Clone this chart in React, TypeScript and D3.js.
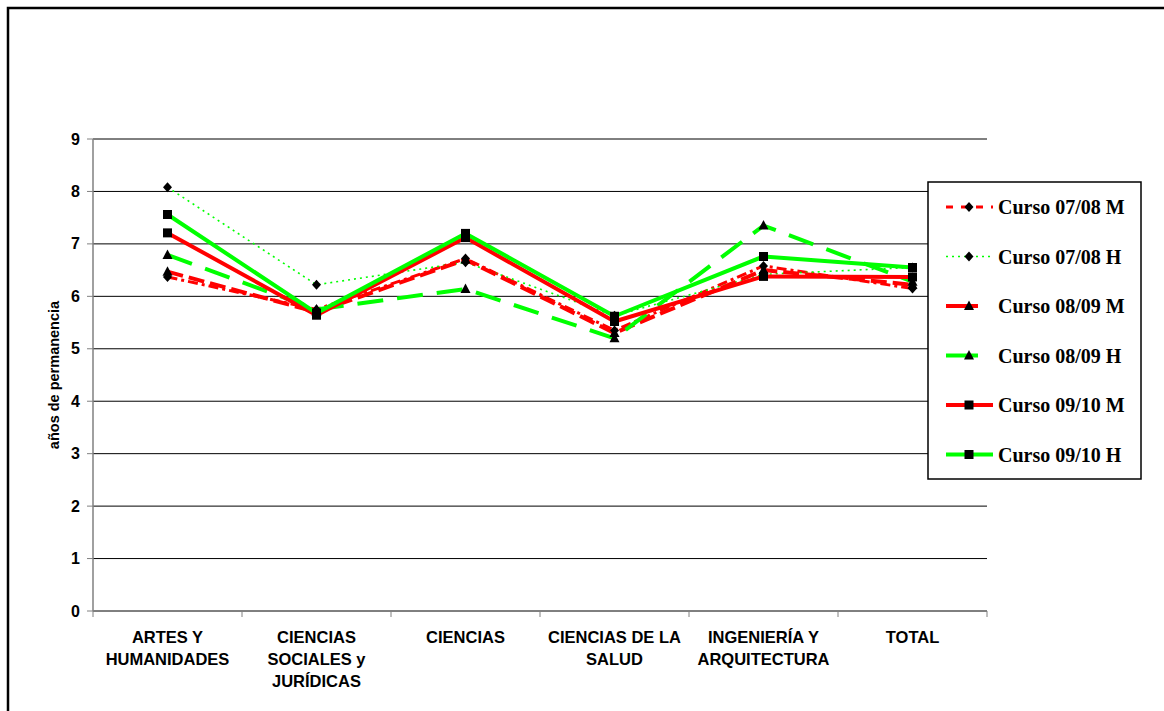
import React from 'react';
import * as d3 from 'd3';

// categories (line breaks as in the original axis labels)
const categories = [
  'ARTES Y\nHUMANIDADES',
  'CIENCIAS\nSOCIALES y\nJURÍDICAS',
  'CIENCIAS',
  'CIENCIAS DE LA\nSALUD',
  'INGENIERÍA Y\nARQUITECTURA',
  'TOTAL',
];

const yTicks = [0, 1, 2, 3, 4, 5, 6, 7, 8, 9];

const curso0708M = [6.37, 5.75, 6.72, 5.35, 6.58, 6.15];
const curso0708H = [8.08, 6.22, 6.65, 5.63, 6.42, 6.55];
const curso0809M = [6.47, 5.7, 6.7, 5.3, 6.5, 6.22];
const curso0809H = [6.79, 5.75, 6.14, 5.2, 7.35, 6.28];
const curso0910M = [7.21, 5.64, 7.12, 5.52, 6.38, 6.37];
const curso0910H = [7.56, 5.68, 7.2, 5.62, 6.76, 6.55];

const RED = '#ff0000';
const GREEN = '#00ff00';

type Marker = 'diamond' | 'triangle' | 'square';

const series = [
  { name: 'Curso 07/08 M', values: curso0708M, color: RED, width: 3, dash: '10,4,3,4', legendDash: '7,8', marker: 'diamond' as Marker },
  { name: 'Curso 07/08 H', values: curso0708H, color: GREEN, width: 1.6, dash: '2,4', legendDash: '2,4', marker: 'diamond' as Marker },
  { name: 'Curso 08/09 M', values: curso0809M, color: RED, width: 4, dash: '16,6', legendDash: 'none', marker: 'triangle' as Marker },
  { name: 'Curso 08/09 H', values: curso0809H, color: GREEN, width: 4, dash: '26,14', legendDash: 'none', marker: 'triangle' as Marker },
  { name: 'Curso 09/10 M', values: curso0910M, color: RED, width: 4, dash: 'none', legendDash: 'none', marker: 'square' as Marker },
  { name: 'Curso 09/10 H', values: curso0910H, color: GREEN, width: 4, dash: 'none', legendDash: 'none', marker: 'square' as Marker },
];

const SANS = 'Arial, "Liberation Sans", sans-serif';
const SERIF = '"Times New Roman", "Liberation Serif", serif';

const markerPath = (m: Marker) => {
  if (m === 'diamond') return 'M0,-5L4.5,0L0,5L-4.5,0Z';
  if (m === 'triangle') return 'M0,-5.5L5,4L-5,4Z';
  return 'M-4.5,-4.5H4.5V4.5H-4.5Z';
};

const Chart: React.FC = () => {
  const left = 93;
  const right = 987;
  const top = 139;
  const bottom = 611;

  const x = d3.scalePoint<number>().domain(categories.map((_, i) => i)).range([left, right]).padding(0.5);
  const y = d3.scaleLinear().domain([0, 9]).range([bottom, top]);
  const step = x.step();

  const line = d3
    .line<number>()
    .x((_, i) => x(i) as number)
    .y((d) => y(d));

  const legendX = 928;
  const legendY = 182;
  const rowH = 49.5;

  return (
    <svg width={1164} height={711} style={{ position: 'absolute', left: 0, top: 0, background: '#fff' }}>
      {/* outer frame */}
      <path d="M8,711V8H1164" fill="none" stroke="#000" strokeWidth={2.5} />

      {/* gridlines */}
      {yTicks.map((t) => (
        <line key={'g' + t} x1={left} x2={right} y1={y(t)} y2={y(t)} stroke="#000" strokeWidth={1} />
      ))}
      {/* y axis */}
      <line x1={left} x2={left} y1={top} y2={bottom} stroke="#808080" strokeWidth={1.5} />
      {yTicks.map((t) => (
        <g key={'yt' + t}>
          <line x1={left - 6} x2={left} y1={y(t)} y2={y(t)} stroke="#808080" />
          <text x={80} y={y(t) + 5.5} textAnchor="end" fontFamily={SANS} fontWeight="bold" fontSize={16}>
            {t}
          </text>
        </g>
      ))}
      <text
        transform={`translate(59,${(top + bottom) / 2}) rotate(-90)`}
        textAnchor="middle"
        fontFamily={SANS}
        fontWeight="bold"
        fontSize={14.5}
      >
        años de permanencia
      </text>

      {/* x ticks and labels */}
      {d3.range(categories.length + 1).map((i) => (
        <line key={'xt' + i} x1={left + i * step} x2={left + i * step} y1={bottom} y2={bottom + 6} stroke="#808080" />
      ))}
      {categories.map((c, i) => (
        <text key={'c' + i} textAnchor="middle" fontFamily={SANS} fontWeight="bold" fontSize={16.5}>
          {c.split('\n').map((ln, j) => (
            <tspan key={j} x={x(i)} y={643 + j * 22}>
              {ln}
            </tspan>
          ))}
        </text>
      ))}

      {/* series lines */}
      {series.map((s) => (
        <path
          key={'l' + s.name}
          d={line(s.values) || ''}
          fill="none"
          stroke={s.color}
          strokeWidth={s.width}
          strokeDasharray={s.dash}
          strokeLinejoin="round"
        />
      ))}
      {/* markers */}
      {series.map((s) =>
        s.values.map((v, i) => (
          <path key={'m' + s.name + i} d={markerPath(s.marker)} transform={`translate(${x(i)},${y(v)})`} fill="#000" />
        ))
      )}

      {/* legend */}
      <rect x={legendX} y={legendY} width={213} height={297} fill="#fff" stroke="#000" strokeWidth={1.5} />
      {series.map((s, i) => {
        const cy = legendY + 25 + i * rowH;
        return (
          <g key={'lg' + s.name}>
            <line
              x1={946}
              x2={i === 2 || i === 3 ? 978 : 993}
              y1={cy}
              y2={cy}
              stroke={s.color}
              strokeWidth={s.width}
              strokeDasharray={s.legendDash}
            />
            <path d={markerPath(s.marker)} transform={`translate(969,${cy})`} fill="#000" />
            <text x={998} y={cy + 7} fontFamily={SERIF} fontWeight="bold" fontSize={20}>
              {s.name}
            </text>
          </g>
        );
      })}
    </svg>
  );
};

export default function App() {
  return <Chart />;
}
